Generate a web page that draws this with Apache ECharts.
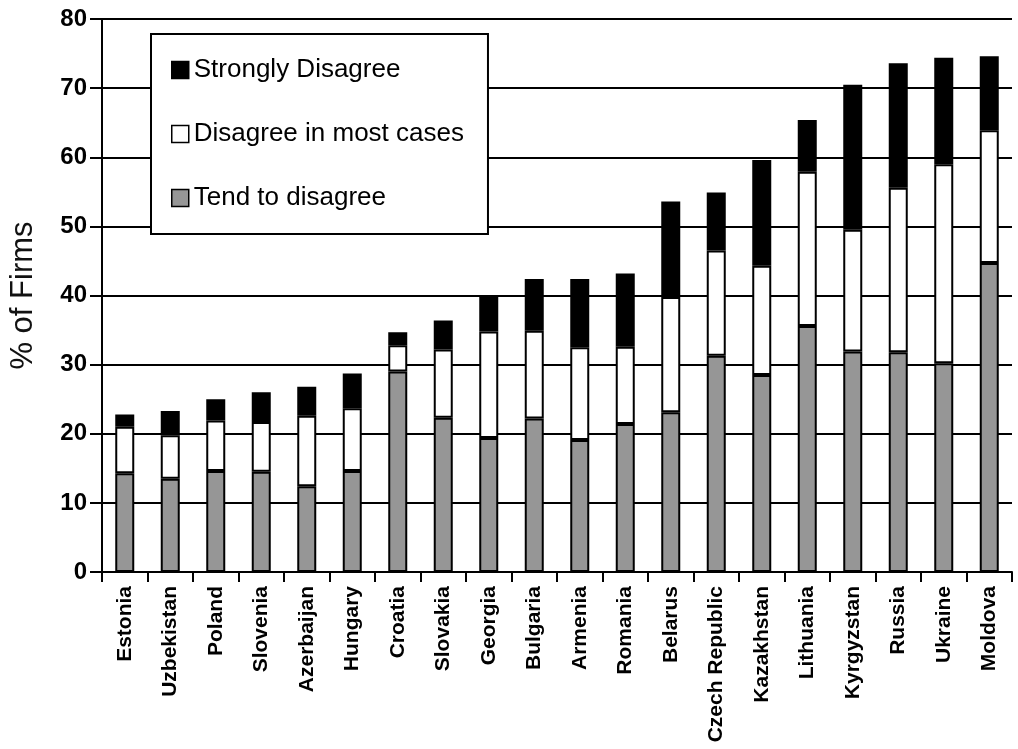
<!DOCTYPE html>
<html>
<head>
<meta charset="utf-8">
<script src="https://cdn.jsdelivr.net/npm/echarts@6/dist/echarts.min.js"></script>
<style>html,body{margin:0;padding:0;background:#fff;}#c{width:1018px;height:749px;}</style>
</head>
<body>
<div id="c"></div>
<script>
const categories = ["Estonia","Uzbekistan","Poland","Slovenia","Azerbaijan","Hungary","Croatia","Slovakia","Georgia","Bulgaria","Armenia","Romania","Belarus","Czech Republic","Kazakhstan","Lithuania","Kyrgyzstan","Russia","Ukraine","Moldova"];
const tendToDisagree = [14.3,13.5,14.6,14.5,12.4,14.6,29.0,22.3,19.4,22.2,19.1,21.4,23.1,31.3,28.5,35.6,31.9,31.8,30.2,44.7];
const disagreeMostCases = [6.7,6.3,7.3,7.2,10.2,9.1,3.8,9.9,15.4,12.7,13.4,11.2,16.7,15.2,15.8,22.3,17.6,23.8,28.8,19.2];
const stronglyDisagree = [1.8,3.5,3.1,4.3,4.2,5.0,1.9,4.2,5.1,7.5,9.9,10.6,13.8,8.4,15.3,7.5,21.0,18.0,15.4,10.7];
const yTicks = {min:0, max:80, interval:10};

const FONT = "Liberation Sans, Arial, sans-serif";
const chart = echarts.init(document.getElementById('c'), null, {renderer:'canvas'});
const mk = (name, data, color) => ({
  name, type:'bar', stack:'s', data, barWidth:19,
  itemStyle:{color, borderColor:'#000', borderWidth:2},
  emphasis:{disabled:true}, animation:false
});
chart.setOption({
  animation:false,
  backgroundColor:'#fff',
  textStyle:{fontFamily:FONT},
  grid:{left:100, right:6, top:19, bottom:177, containLabel:false},
  legend:{
    orient:'vertical', left:151, top:34,
    data:['Strongly Disagree','Disagree in most cases','Tend to disagree'],
    icon:'rect',
    backgroundColor:'#fff', borderColor:'#000', borderWidth:2, borderRadius:0,
    padding:[23,24,23,20], itemGap:38, itemWidth:17, itemHeight:17,
    itemStyle:{borderColor:'#000', borderWidth:1.5},
    textStyle:{fontSize:26, lineHeight:26, color:'#000', fontFamily:FONT},
    selectedMode:false
  },
  xAxis:{
    type:'category', data:categories,
    axisLine:{lineStyle:{color:'#000', width:2}},
    axisTick:{show:true, alignWithLabel:false, length:10, lineStyle:{color:'#000', width:2}},
    axisLabel:{rotate:90, fontSize:21, fontWeight:'bold', color:'#000', margin:14, fontFamily:FONT, interval:0}
  },
  yAxis:{
    type:'value', min:yTicks.min, max:yTicks.max, interval:yTicks.interval,
    name:'% of Firms', nameLocation:'middle', nameGap:63,
    nameTextStyle:{fontSize:31, color:'#111', fontFamily:FONT},
    axisLine:{show:true, lineStyle:{color:'#000', width:2}},
    axisTick:{show:true, length:12, lineStyle:{color:'#000', width:2}},
    axisLabel:{fontSize:24, fontWeight:'bold', color:'#000', margin:15, fontFamily:FONT},
    splitLine:{show:true, lineStyle:{color:'#000', width:2}}
  },
  series:[
    mk('Tend to disagree', tendToDisagree, '#969696'),
    mk('Disagree in most cases', disagreeMostCases, '#ffffff'),
    mk('Strongly Disagree', stronglyDisagree, '#000000')
  ]
});
</script>
</body>
</html>
